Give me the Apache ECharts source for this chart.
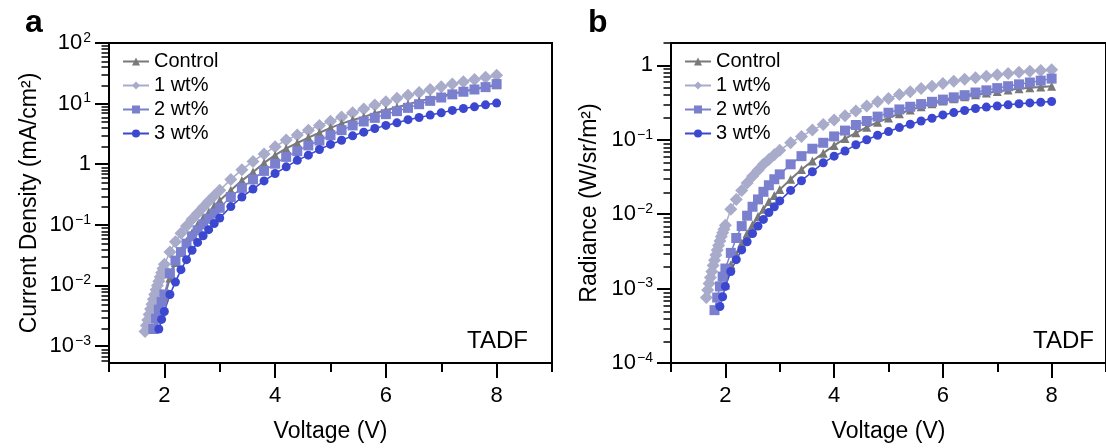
<!DOCTYPE html>
<html><head><meta charset="utf-8">
<script src="https://cdn.jsdelivr.net/npm/echarts@6/dist/echarts.min.js"></script>
<style>html,body{margin:0;padding:0;background:#fff}#c{width:1106px;height:448px}</style>
</head><body><div id="c"></div>
<script>
// ---------- data ----------
const seriesNames = ['Control', '1 wt%', '2 wt%', '3 wt%'];
const xMajorTicks = [2, 4, 6, 8];
const xMinorTicks = [1, 3, 5, 7, 9];
const yTicksA = [1e-3, 1e-2, 1e-1, 1, 10, 100];
const yTicksB = [1e-4, 1e-3, 1e-2, 1e-1, 1];

// Panel a: current density (mA/cm2) vs voltage (V)
const jControl = [[1.85,0.0020],[1.9,0.0030],[1.95,0.00437],[2.0,0.0063],[2.1,0.0132],[2.2,0.024],[2.3,0.0372],[2.4,0.0537],[2.5,0.0741],[2.6,0.100],[2.7,0.129],[2.8,0.162],[2.9,0.204],[3.0,0.251],[3.2,0.372],[3.4,0.537],[3.6,0.741],[3.8,1.05],[4.0,1.41],[4.2,1.82],[4.4,2.24],[4.6,2.75],[4.8,3.31],[5.0,3.98],[5.2,4.68],[5.4,5.37],[5.6,6.03],[5.8,6.92],[6.0,7.76],[6.2,8.71],[6.4,9.77],[6.6,11.0],[6.8,12.0],[7.0,13.2],[7.2,14.5],[7.4,15.8],[7.6,17.4],[7.8,18.6],[8.0,20.4]];
const j1wt = [[1.65,0.00174],[1.675,0.00219],[1.7,0.00269],[1.725,0.00331],[1.75,0.00407],[1.775,0.0049],[1.8,0.00589],[1.825,0.00708],[1.85,0.0085],[1.875,0.0100],[1.9,0.0117],[1.925,0.0138],[1.95,0.0162],[1.975,0.0191],[2.0,0.0224],[2.1,0.0355],[2.2,0.0525],[2.3,0.0724],[2.4,0.0955],[2.5,0.123],[2.6,0.155],[2.7,0.195],[2.8,0.245],[2.9,0.302],[3.0,0.372],[3.2,0.562],[3.4,0.813],[3.6,1.11],[3.8,1.48],[4.0,1.95],[4.2,2.51],[4.4,3.02],[4.6,3.63],[4.8,4.37],[5.0,5.13],[5.2,6.03],[5.4,7.08],[5.6,8.13],[5.8,9.44],[6.0,10.7],[6.2,12.2],[6.4,13.8],[6.6,15.3],[6.8,17.1],[7.0,19.0],[7.2,21.0],[7.4,22.9],[7.6,25.1],[7.8,27.1],[8.0,29.5]];
const j2wt = [[1.8,0.00191],[1.85,0.00282],[1.9,0.00398],[1.95,0.00537],[2.0,0.00708],[2.1,0.0158],[2.2,0.0257],[2.3,0.0355],[2.4,0.049],[2.5,0.0646],[2.6,0.0813],[2.7,0.102],[2.8,0.126],[2.9,0.153],[3.0,0.191],[3.2,0.288],[3.4,0.407],[3.6,0.562],[3.8,0.776],[4.0,1.02],[4.2,1.32],[4.4,1.64],[4.6,2.04],[4.8,2.46],[5.0,3.01],[5.2,3.65],[5.4,4.37],[5.6,5.07],[5.8,5.82],[6.0,6.70],[6.2,7.50],[6.4,8.51],[6.6,9.77],[6.8,11.1],[7.0,12.6],[7.2,14.2],[7.4,15.7],[7.6,17.1],[7.8,18.7],[8.0,21.0]];
const j3wt = [[1.9,0.00191],[1.95,0.00275],[2.0,0.00372],[2.1,0.00708],[2.2,0.01135],[2.3,0.0182],[2.4,0.0266],[2.5,0.038],[2.6,0.0513],[2.7,0.0661],[2.8,0.0832],[2.9,0.105],[3.0,0.129],[3.2,0.200],[3.4,0.288],[3.6,0.389],[3.8,0.531],[4.0,0.702],[4.2,0.904],[4.4,1.16],[4.6,1.41],[4.8,1.75],[5.0,2.12],[5.2,2.49],[5.4,2.94],[5.6,3.38],[5.8,3.89],[6.0,4.37],[6.2,4.82],[6.4,5.43],[6.6,5.89],[6.8,6.46],[7.0,7.05],[7.2,7.73],[7.4,8.32],[7.6,8.85],[7.8,9.55],[8.0,10.2]];

// Panel b: radiance (W/sr/m2) vs voltage (V)
const rControl = [[2.0,0.00112],[2.1,0.00209],[2.2,0.00288],[2.3,0.00407],[2.4,0.0055],[2.5,0.00724],[2.6,0.00933],[2.7,0.0117],[2.8,0.0148],[2.9,0.0178],[3.0,0.0214],[3.2,0.0295],[3.4,0.0398],[3.6,0.0519],[3.8,0.0661],[4.0,0.0841],[4.2,0.104],[4.4,0.124],[4.6,0.148],[4.8,0.172],[5.0,0.197],[5.2,0.224],[5.4,0.251],[5.6,0.279],[5.8,0.305],[6.0,0.331],[6.2,0.355],[6.4,0.38],[6.6,0.403],[6.8,0.427],[7.0,0.447],[7.2,0.468],[7.4,0.484],[7.6,0.501],[7.8,0.513],[8.0,0.525]];
const r1wt = [[1.65,0.000759],[1.675,0.000955],[1.7,0.00117],[1.725,0.00141],[1.75,0.0017],[1.775,0.00204],[1.8,0.0024],[1.825,0.00282],[1.85,0.00331],[1.875,0.0038],[1.9,0.00437],[1.925,0.00501],[1.95,0.00562],[1.975,0.0063],[2.0,0.00708],[2.1,0.0117],[2.2,0.0158],[2.3,0.0209],[2.4,0.0263],[2.5,0.0324],[2.6,0.0389],[2.7,0.0468],[2.8,0.0543],[2.9,0.0631],[3.0,0.0724],[3.2,0.0912],[3.4,0.111],[3.6,0.135],[3.8,0.160],[4.0,0.184],[4.2,0.211],[4.4,0.244],[4.6,0.284],[4.8,0.324],[5.0,0.36],[5.2,0.406],[5.4,0.441],[5.6,0.489],[5.8,0.525],[6.0,0.57],[6.2,0.61],[6.4,0.65],[6.6,0.684],[6.8,0.716],[7.0,0.75],[7.2,0.78],[7.4,0.807],[7.6,0.832],[7.8,0.855],[8.0,0.875]];
const r2wt = [[1.8,0.000513],[1.85,0.000759],[1.9,0.00107],[1.95,0.00145],[2.0,0.00186],[2.1,0.00302],[2.2,0.00479],[2.3,0.00692],[2.4,0.00955],[2.5,0.0126],[2.6,0.0158],[2.7,0.020],[2.8,0.0245],[2.9,0.0295],[3.0,0.0343],[3.2,0.0468],[3.4,0.0603],[3.6,0.0759],[3.8,0.0912],[4.0,0.111],[4.2,0.133],[4.4,0.158],[4.6,0.179],[4.8,0.205],[5.0,0.231],[5.2,0.256],[5.4,0.278],[5.6,0.302],[5.8,0.324],[6.0,0.347],[6.2,0.372],[6.4,0.398],[6.6,0.432],[6.8,0.462],[7.0,0.495],[7.2,0.525],[7.4,0.556],[7.6,0.589],[7.8,0.624],[8.0,0.664]];
const r3wt = [[1.9,0.000575],[1.95,0.000776],[2.0,0.00107],[2.1,0.0017],[2.2,0.00245],[2.3,0.00331],[2.4,0.00427],[2.5,0.0055],[2.6,0.00692],[2.7,0.00851],[2.8,0.0105],[2.9,0.0126],[3.0,0.0151],[3.2,0.0209],[3.4,0.0282],[3.6,0.0372],[3.8,0.049],[4.0,0.0603],[4.2,0.0708],[4.4,0.0857],[4.6,0.100],[4.8,0.115],[5.0,0.129],[5.2,0.146],[5.4,0.162],[5.6,0.179],[5.8,0.195],[6.0,0.216],[6.2,0.232],[6.4,0.248],[6.6,0.263],[6.8,0.275],[7.0,0.285],[7.2,0.295],[7.4,0.305],[7.6,0.313],[7.8,0.320],[8.0,0.327]];

// ---------- style ----------
const FONT = 'Liberation Sans, Arial, Helvetica, sans-serif';
const BLACK = '#000';
const colors = ['#797979', '#a9abcb', '#7a7fce', '#3c47cf'];
const symbols = ['triangle', 'diamond', 'rect', 'circle'];
const symSizes = [9, 13, 10, 9];
const lineWidths = [2, 1.5, 1.5, 1.5];

function minorLogTicks(lo, hi, minV, maxV) {
  const out = [];
  for (let d = lo; d <= hi; d++) {
    for (let k = 2; k <= 9; k++) {
      const v = k * Math.pow(10, d);
      if (v >= minV && v <= maxV) out.push(v);
    }
  }
  return out;
}
function logLabel(v) {
  const e = Math.round(Math.log10(v));
  if (e === 0) return '1';
  return '{b|10}{s|' + (e < 0 ? '\u2212' + (-e) : String(e)) + '}';
}
const richLab = {
  b: { fontSize: 22, fontFamily: FONT, color: BLACK, lineHeight: 24 },
  s: { fontSize: 14, fontFamily: FONT, color: BLACK, verticalAlign: 'top', lineHeight: 14, padding: [0, 0, 0, 1] }
};

const panels = [
  { left: 109, top: 43, width: 443, height: 321, ymin: 5.25e-4, ymax: 100, yTicks: yTicksA,
    yName: 'Current Density (mA/cm\u00B2)', nameGap: 68, data: [jControl, j1wt, j2wt, j3wt],
    legendLeft: 122, tadfX: 528 },
  { left: 671, top: 43, width: 442, height: 321, ymin: 1e-4, ymax: 2, yTicks: yTicksB,
    yName: 'Radiance (W/sr/m\u00B2)', nameGap: 70, data: [rControl, r1wt, r2wt, r3wt],
    legendLeft: 684, tadfX: 1094 }
];

const grid = [], xAxis = [], yAxis = [], series = [], legend = [], graphic = [];
panels.forEach((p, i) => {
  const gMain = grid.length;
  grid.push({ left: p.left, top: p.top, width: p.width, height: p.height, show: true,
    borderColor: BLACK, borderWidth: 2, backgroundColor: 'transparent', containLabel: false });
  const gMinor = grid.length;
  grid.push({ left: p.left, top: p.top, width: p.width, height: p.height, show: false, containLabel: false });

  const xMainIdx = xAxis.length;
  xAxis.push({
    gridIndex: gMain, type: 'value', min: 1, max: 9, position: 'bottom',
    axisLine: { show: true, lineStyle: { color: BLACK, width: 2 } },
    axisTick: { show: true, customValues: xMajorTicks, length: 15, lineStyle: { color: BLACK, width: 2 } },
    axisLabel: { show: true, customValues: xMajorTicks, margin: 22, fontSize: 22, fontFamily: FONT, color: BLACK },
    splitLine: { show: false },
    name: 'Voltage (V)', nameLocation: 'middle', nameGap: 57,
    nameTextStyle: { fontSize: 23, fontFamily: FONT, color: BLACK }
  });
  xAxis.push({
    gridIndex: gMinor, type: 'value', min: 1, max: 9, position: 'bottom',
    axisLine: { show: false },
    axisTick: { show: true, customValues: xMinorTicks, length: 8, lineStyle: { color: BLACK, width: 2 } },
    axisLabel: { show: false }, splitLine: { show: false }
  });

  const yMainIdx = yAxis.length;
  yAxis.push({
    gridIndex: gMain, type: 'log', logBase: 10, min: p.ymin, max: p.ymax, position: 'left',
    axisLine: { show: true, lineStyle: { color: BLACK, width: 2 } },
    axisTick: { show: true, customValues: p.yTicks, length: 14, lineStyle: { color: BLACK, width: 2 } },
    axisLabel: { show: true, customValues: p.yTicks, formatter: logLabel, rich: richLab, margin: 18,
      fontSize: 22, fontFamily: FONT, color: BLACK },
    splitLine: { show: false }, minorTick: { show: false },
    name: p.yName, nameLocation: 'middle', nameGap: p.nameGap,
    nameTextStyle: { fontSize: 23, fontFamily: FONT, color: BLACK }
  });
  yAxis.push({
    gridIndex: gMinor, type: 'log', logBase: 10, min: p.ymin, max: p.ymax, position: 'left',
    axisLine: { show: false },
    axisTick: { show: true, customValues: minorLogTicks(-5, 2, p.ymin, p.ymax), length: 7.5, lineStyle: { color: BLACK, width: 1.5 } },
    axisLabel: { show: false }, splitLine: { show: false }
  });

  // draw order: 1 wt% at the bottom, then Control, 2 wt%, 3 wt%
  [1, 0, 2, 3].forEach(k => {
    series.push({
      type: 'line', name: seriesNames[k], xAxisIndex: xMainIdx, yAxisIndex: yMainIdx,
      data: p.data[k], symbol: symbols[k], symbolSize: symSizes[k], showSymbol: true,
      itemStyle: { color: colors[k], opacity: 1 },
      lineStyle: { color: colors[k], width: lineWidths[k] },
      emphasis: { disabled: true }, clip: false
    });
  });

  legend.push({
    data: seriesNames, orient: 'vertical', left: p.legendLeft, top: 51,
    itemWidth: 26, itemHeight: 10, itemGap: 3, padding: 0, selectedMode: false,
    textStyle: { fontSize: 20, fontFamily: FONT, color: BLACK, lineHeight: 21 }
  });

  graphic.push({ type: 'text', x: p.tadfX, y: 341,
    style: { text: 'TADF', fontSize: 24, fontFamily: FONT, fill: BLACK, align: 'right', verticalAlign: 'middle' } });
});

const option = {
  animation: false,
  backgroundColor: '#fff',
  title: [
    { text: 'a', left: 20, top: 2, textStyle: { fontSize: 32, fontWeight: 'bold', fontFamily: FONT, color: BLACK } },
    { text: 'b', left: 583, top: 2, textStyle: { fontSize: 32, fontWeight: 'bold', fontFamily: FONT, color: BLACK } }
  ],
  grid, xAxis, yAxis, series, legend, graphic
};
const chart = echarts.init(document.getElementById('c'), null, { renderer: 'canvas' });
chart.setOption(option);
</script>
</body></html>
